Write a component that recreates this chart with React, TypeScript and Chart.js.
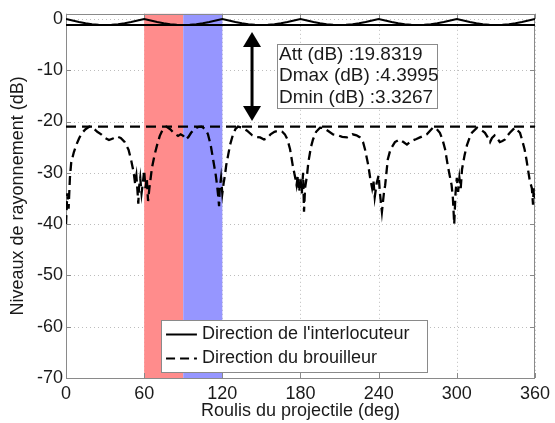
import React, { useEffect, useRef } from "react";
import { Chart, registerables } from "chart.js";

Chart.register(...registerables);

// ---- Data ----
const rollA = [
  0, 5, 10, 15, 20, 25, 30, 35, 40, 45, 50, 55,
  60, 65, 70, 75, 80, 85, 90, 95, 100, 105, 110, 115,
  120, 125, 130, 135, 140, 145, 150, 155, 160, 165, 170, 175,
  180, 185, 190, 195, 200, 205, 210, 215, 220, 225, 230, 235,
  240, 245, 250, 255, 260, 265, 270, 275, 280, 285, 290, 295,
  300, 305, 310, 315, 320, 325, 330, 335, 340, 345, 350, 355, 360,
];
const levelA = [
  0, -0.3, -0.6, -0.85, -1.03, -1.15, -1.2, -1.15, -1.03, -0.85, -0.6, -0.3,
  0, -0.3, -0.6, -0.85, -1.03, -1.15, -1.2, -1.15, -1.03, -0.85, -0.6, -0.3,
  0, -0.3, -0.6, -0.85, -1.03, -1.15, -1.2, -1.15, -1.03, -0.85, -0.6, -0.3,
  0, -0.3, -0.6, -0.85, -1.03, -1.15, -1.2, -1.15, -1.03, -0.85, -0.6, -0.3,
  0, -0.3, -0.6, -0.85, -1.03, -1.15, -1.2, -1.15, -1.03, -0.85, -0.6, -0.3,
  0, -0.3, -0.6, -0.85, -1.03, -1.15, -1.2, -1.15, -1.03, -0.85, -0.6, -0.3, 0,
];

const rollB = [
  0, 1, 2, 3, 4, 6, 8, 10, 12, 15, 18, 21, 24, 27, 30, 33, 36, 39, 42, 45, 48, 50, 52, 53, 54, 55, 55.5, 56, 57, 58, 59,
  60, 61, 62, 63, 64, 65, 66, 68, 70, 72, 74, 77, 80, 83, 86, 88, 90, 92, 94, 96, 98, 101, 104, 107, 109, 111, 113, 115, 116, 117, 117.5, 118, 119,
  120, 121, 122, 123, 124.5, 126, 128, 130, 132, 135, 139, 143, 146, 149, 152, 154, 157, 160, 163, 166, 168, 170, 172, 174, 176, 177, 178, 179,
  180, 181, 182, 182.7, 183.5, 185, 186, 188, 189.6, 192, 195, 198, 201, 205, 209, 212, 215.7, 218, 220, 223, 225.7, 228, 229.5, 232, 233.5, 235, 236, 237, 238.5,
  240, 241, 242.5, 244, 245, 247, 249, 252.5, 256, 259, 261.7, 264, 266, 269, 271.7, 277, 281.7, 284, 287, 289, 291, 293, 294.5, 296, 297, 298, 299,
  300, 301, 302, 303, 304, 306, 307.8, 310, 311.6, 315.5, 318.5, 321.6, 323.5, 325.5, 327, 329, 331, 333, 335, 337, 339, 340.7, 344.6, 348.5, 350, 352, 353.5, 354.6, 356, 357.6, 358.5, 359,
  360,
];
const levelB = [
  -40, -34, -37, -31, -28, -26, -24.5, -23.3, -22.3, -21.5, -21, -21.3, -22, -22.5, -23.2, -23.6, -23.3, -22.9, -23.2, -24, -25.5, -27.5, -30, -32, -30.5, -34, -36, -33, -31, -34, -32,
  -29.5, -33, -31, -35.5, -33, -31, -29, -26.5, -24.5, -22.8, -21.7, -21, -21.5, -22.3, -22.8, -22.5, -22.8, -23.5, -23, -22.2, -21.6, -21.1, -21, -21.5, -22.5, -24.5, -27.5, -30.5, -32.5, -35, -36.5, -33, -31,
  -34, -32, -30.5, -28.5, -26.5, -24.5, -22.7, -21.5, -21, -21.2, -21.8, -22.7, -23, -23.1, -23.5, -23.3, -22.5, -22, -21.8, -22, -22.5, -23.5, -25.4, -28.5, -31, -32.4, -30.5, -33.7,
  -31, -34, -30, -37.6, -33, -30.5, -28, -25, -23.5, -22, -21.2, -21.3, -21.8, -22.5, -22.7, -23, -23.1, -22.8, -22.5, -22.7, -23.1, -24, -25.4, -28.5, -31, -33, -31.5, -34.7, -32,
  -30.5, -34, -37.6, -34, -32.4, -27.4, -25.5, -24, -23.5, -24, -24.5, -24, -23.7, -23.4, -23.1, -22.5, -21.2, -21.3, -22.2, -23.5, -25.4, -28.5, -30.5, -32.4, -35, -40, -34,
  -31, -33.7, -31, -33, -29.3, -26.5, -24.6, -23, -22.2, -21.2, -21.6, -22.2, -23, -24, -23.2, -22.7, -23.3, -24, -23.8, -23.5, -22.7, -22.2, -21.2, -22.2, -23.5, -25.4, -27.5, -29.3, -31.5, -33, -36.2, -33,
  -35,
];

const refLevelA = -1.2; // solid reference line
const refLevelB = -21; // dashed reference line

const xTicks = [0, 60, 120, 180, 240, 300, 360];
const yTicks = [-70, -60, -50, -40, -30, -20, -10, 0];
const xRange = [0, 360];
const yRange = [-70, 1];

const bandStarts = [60, 90];
const bandEnds = [90, 120];
const bandColors = ["rgb(255,140,140)", "rgb(150,150,255)"];

const seriesNames = ["Direction de l'interlocuteur", "Direction du brouilleur"];
const xTitle = "Roulis du projectile (deg)";
const yTitle = "Niveaux de rayonnement (dB)";

const annotationLines = ["Att (dB) :19.8319", "Dmax (dB) :4.3995", "Dmin (dB) :3.3267"];
// annotation box anchor (data units): [xLeft, xRight, yTop, yBottom]
const annotationBox = [162, 284.8, -4.8, -17.35];
const annotationRowsY = [-7.0, -11.1, -15.3];
// arrow: x, from, to (data units)
const arrowSpec = [142.8, -2.55, -19.9];
// legend box (data units): [xLeft, xRight, yTop, yBottom]
const legendBox = [72.9, 277, -58.6, -68.9];
const legendRowsY = [-61.4, -66.1];
const legendSample = [76.8, 100.5, 104.4];

const FONT = "'Liberation Sans', Arial, sans-serif";
const TEXT = "#1a1a1a";

const decor = {
  id: "decor",
  beforeDatasetsDraw(chart: any) {
    const { ctx, chartArea: a, scales } = chart;
    const x = scales.x;
    const y = scales.y;
    ctx.save();
    // dotted grid
    ctx.strokeStyle = "#bdbdbd";
    ctx.lineWidth = 1;
    ctx.setLineDash([1, 3]);
    xTicks.forEach((v) => {
      const px = Math.round(x.getPixelForValue(v)) + 0.5;
      ctx.beginPath();
      ctx.moveTo(px, a.top);
      ctx.lineTo(px, a.bottom);
      ctx.stroke();
    });
    yTicks.forEach((v) => {
      const py = Math.round(y.getPixelForValue(v)) + 0.5;
      ctx.beginPath();
      ctx.moveTo(a.left, py);
      ctx.lineTo(a.right, py);
      ctx.stroke();
    });
    ctx.setLineDash([]);
    // shaded bands
    bandStarts.forEach((s, i) => {
      const x0 = x.getPixelForValue(s);
      const x1 = x.getPixelForValue(bandEnds[i]);
      ctx.fillStyle = bandColors[i];
      ctx.fillRect(x0, a.top, x1 - x0, a.bottom - a.top);
    });
    // frame
    ctx.strokeStyle = "#8a8a8a";
    ctx.lineWidth = 1;
    ctx.strokeRect(Math.round(a.left) + 0.5, Math.round(a.top) + 0.5, Math.round(a.right - a.left) - 1, Math.round(a.bottom - a.top));
    // inner tick marks
    const tl = 5;
    xTicks.forEach((v) => {
      const px = Math.round(x.getPixelForValue(v)) + 0.5;
      ctx.beginPath();
      ctx.moveTo(px, a.bottom);
      ctx.lineTo(px, a.bottom - tl);
      ctx.moveTo(px, a.top);
      ctx.lineTo(px, a.top + tl);
      ctx.stroke();
    });
    yTicks.forEach((v) => {
      const py = Math.round(y.getPixelForValue(v)) + 0.5;
      ctx.beginPath();
      ctx.moveTo(a.left, py);
      ctx.lineTo(a.left + tl, py);
      ctx.moveTo(a.right, py);
      ctx.lineTo(a.right - tl, py);
      ctx.stroke();
    });
    ctx.restore();
  },
  afterDatasetsDraw(chart: any) {
    const { ctx, scales } = chart;
    const x = scales.x;
    const y = scales.y;
    ctx.save();
    // double arrow
    const ax = x.getPixelForValue(arrowSpec[0]);
    const ay0 = y.getPixelForValue(arrowSpec[1]);
    const ay1 = y.getPixelForValue(arrowSpec[2]);
    const hw = 9;
    const hh = 15;
    ctx.strokeStyle = "#000";
    ctx.fillStyle = "#000";
    ctx.lineWidth = 3;
    ctx.beginPath();
    ctx.moveTo(ax, ay0 + hh - 2);
    ctx.lineTo(ax, ay1 - hh + 2);
    ctx.stroke();
    ctx.beginPath();
    ctx.moveTo(ax, ay0);
    ctx.lineTo(ax - hw, ay0 + hh);
    ctx.lineTo(ax + hw, ay0 + hh);
    ctx.closePath();
    ctx.fill();
    ctx.beginPath();
    ctx.moveTo(ax, ay1);
    ctx.lineTo(ax - hw, ay1 - hh);
    ctx.lineTo(ax + hw, ay1 - hh);
    ctx.closePath();
    ctx.fill();

    // annotation box
    const bx0 = Math.round(x.getPixelForValue(annotationBox[0])) + 0.5;
    const bx1 = Math.round(x.getPixelForValue(annotationBox[1])) + 0.5;
    const by0 = Math.round(y.getPixelForValue(annotationBox[2])) + 0.5;
    const by1 = Math.round(y.getPixelForValue(annotationBox[3])) + 0.5;
    ctx.fillStyle = "#fff";
    ctx.fillRect(bx0, by0, bx1 - bx0, by1 - by0);
    ctx.strokeStyle = "#8a8a8a";
    ctx.lineWidth = 1;
    ctx.strokeRect(bx0, by0, bx1 - bx0, by1 - by0);
    ctx.fillStyle = TEXT;
    ctx.font = `19px ${FONT}`;
    ctx.textAlign = "left";
    ctx.textBaseline = "middle";
    annotationLines.forEach((t, i) => {
      ctx.fillText(t, bx0 + 1.5, y.getPixelForValue(annotationRowsY[i]));
    });

    // legend box
    const lx0 = Math.round(x.getPixelForValue(legendBox[0])) + 0.5;
    const lx1 = Math.round(x.getPixelForValue(legendBox[1])) + 0.5;
    const ly0 = Math.round(y.getPixelForValue(legendBox[2])) + 0.5;
    const ly1 = Math.round(y.getPixelForValue(legendBox[3])) + 0.5;
    ctx.fillStyle = "#fff";
    ctx.fillRect(lx0, ly0, lx1 - lx0, ly1 - ly0);
    ctx.strokeStyle = "#8a8a8a";
    ctx.lineWidth = 1;
    ctx.strokeRect(lx0, ly0, lx1 - lx0, ly1 - ly0);
    const s0 = x.getPixelForValue(legendSample[0]);
    const s1 = x.getPixelForValue(legendSample[1]);
    const tx = x.getPixelForValue(legendSample[2]);
    ctx.font = `18px ${FONT}`;
    seriesNames.forEach((name, i) => {
      const ry = Math.round(y.getPixelForValue(legendRowsY[i])) + 0.5;
      ctx.strokeStyle = "#000";
      ctx.lineWidth = 2;
      ctx.setLineDash(i === 0 ? [] : [9, 5]);
      ctx.beginPath();
      ctx.moveTo(s0, ry);
      ctx.lineTo(s1, ry);
      ctx.stroke();
      ctx.setLineDash([]);
      ctx.fillStyle = TEXT;
      ctx.fillText(name, tx, ry);
    });
    ctx.restore();
  },
};

export default function App() {
  const ref = useRef<HTMLCanvasElement | null>(null);
  useEffect(() => {
    document.body.style.margin = "0";
    const canvas = ref.current;
    if (!canvas) return;
    const chart = new Chart(canvas, {
      type: "line",
      data: {
        datasets: [
          {
            label: seriesNames[0],
            data: rollA.map((v, i) => ({ x: v, y: levelA[i] })),
            borderColor: "#000",
            borderWidth: 2,
            pointRadius: 0,
            tension: 0,
          },
          {
            label: seriesNames[1],
            data: rollB.map((v, i) => ({ x: v, y: levelB[i] })),
            borderColor: "#000",
            borderWidth: 2.3,
            borderDash: [9, 5],
            pointRadius: 0,
            tension: 0,
          },
          {
            label: "ref A",
            data: [
              { x: xRange[0], y: refLevelA },
              { x: xRange[1], y: refLevelA },
            ],
            borderColor: "#000",
            borderWidth: 2,
            pointRadius: 0,
          },
          {
            label: "ref B",
            data: [
              { x: xRange[0], y: refLevelB },
              { x: xRange[1], y: refLevelB },
            ],
            borderColor: "#000",
            borderWidth: 2.3,
            borderDash: [10, 6],
            pointRadius: 0,
          },
        ],
      },
      options: {
        responsive: false,
        animation: false,
        devicePixelRatio: 1,
        layout: { padding: { top: 10, right: 20, left: 0, bottom: 0 } },
        plugins: { legend: { display: false }, tooltip: { enabled: false } },
        scales: {
          x: {
            type: "linear",
            min: xRange[0],
            max: xRange[1],
            afterBuildTicks: (s: any) => {
              s.ticks = xTicks.map((v) => ({ value: v }));
            },
            afterFit: (s: any) => {
              s.height = 45;
            },
            grid: { display: false, drawTicks: false },
            border: { display: false },
            ticks: {
              padding: 5,
              autoSkip: false,
              maxRotation: 0,
              color: TEXT,
              font: { family: FONT, size: 18 },
            },
            title: {
              display: true,
              text: xTitle,
              color: TEXT,
              font: { family: FONT, size: 18 },
              padding: { top: 0, bottom: 1 },
            },
          },
          y: {
            type: "linear",
            min: yRange[0],
            max: yRange[1],
            afterBuildTicks: (s: any) => {
              s.ticks = yTicks.map((v) => ({ value: v }));
            },
            afterFit: (s: any) => {
              s.width = 66;
            },
            grid: { display: false, drawTicks: false },
            border: { display: false },
            ticks: {
              padding: 3,
              autoSkip: false,
              color: TEXT,
              font: { family: FONT, size: 18 },
            },
            title: {
              display: true,
              text: yTitle,
              color: TEXT,
              font: { family: FONT, size: 18 },
              padding: { top: 7, bottom: 0 },
            },
          },
        },
      },
      plugins: [decor],
    });
    return () => chart.destroy();
  }, []);
  return (
    <div style={{ position: "absolute", left: 0, top: 0, width: 555, height: 423 }}>
      <canvas ref={ref} width={555} height={423} style={{ width: 555, height: 423 }} />
    </div>
  );
}
